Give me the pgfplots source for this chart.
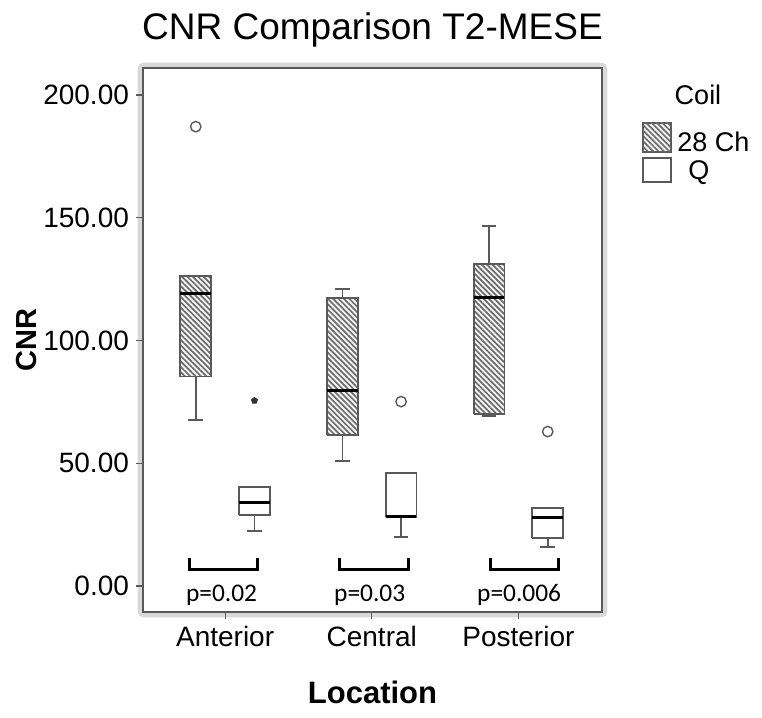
\documentclass[border=0pt]{standalone}
\usepackage{fontspec}
\setmainfont{Liberation Sans}
\newfontfamily\pfont{Carlito}
\usepackage{pgfplots}
\pgfplotsset{compat=1.18}
\usetikzlibrary{patterns.meta}

\definecolor{edge}{gray}{0.35}
\definecolor{hatch}{gray}{0.42}

\tikzset{hatched/.style={fill=gray!8, postaction={pattern={Lines[angle=-45,distance=1.9pt,line width=0.85pt]}, pattern color=hatch}}}

\pgfplotsset{
  whisk/.style={edge, line width=0.9pt, no markers, unbounded coords=jump},
  hbox/.style={draw=edge, line width=0.9pt, no markers, line join=miter, hatched},
  wbox/.style={draw=edge, line width=0.9pt, no markers, line join=miter, fill=white},
  med/.style={black, line width=1.5pt, no markers},
  outl/.style={only marks, mark=o, mark size=2.6pt, mark options={draw=edge, line width=0.7pt}},
  brk/.style={black, line width=1.5pt, no markers},
}

\begin{document}
\begin{tikzpicture}
\useasboundingbox (-71.5pt,-53pt) rectangle (309.5pt,306pt);
% light outer frame
\draw[gray!30, line width=2.2pt, rounded corners=2pt] (-1.6pt,-1.6pt) rectangle (231.1pt,273.6pt);
\begin{axis}[
  at={(0,0)}, anchor=south west,
  scale only axis, width=229.5pt, height=272pt,
  xmin=0.44, xmax=3.57, ymin=-10.6, ymax=211,
  xtick={1,2,3}, xticklabels={Anterior,Central,Posterior},
  ytick={0,50,100,150,200},
  yticklabel style={/pgf/number format/.cd, fixed, fixed zerofill, precision=2, assume math mode=true},
  xtick pos=bottom, ytick pos=left,
  tick align=outside, major tick length=3.5pt,
  tick style={edge, line width=0.6pt},
  tick label style={font=\fontsize{14}{16}\selectfont},
  axis line style={edge, line width=0.8pt},
  clip=false,
]
% ---- Anterior, 28 Ch (x=0.8)
\addplot[whisk] coordinates {(0.8,67.6) (0.8,85.3) (0.8,nan) (0.75,67.6) (0.85,67.6)};
\addplot[hbox] coordinates {(0.695,85.3) (0.905,85.3) (0.905,126.3) (0.695,126.3) (0.695,85.3)};
\addplot[med] coordinates {(0.695,119.2) (0.905,119.2)};
\addplot[outl] coordinates {(0.8,187.1)};
% ---- Anterior, Q (x=1.2)
\addplot[whisk] coordinates {(1.2,22.4) (1.2,28.9) (1.2,nan) (1.15,22.4) (1.25,22.4)};
\addplot[wbox] coordinates {(1.095,28.9) (1.305,28.9) (1.305,40.4) (1.095,40.4) (1.095,28.9)};
\addplot[med] coordinates {(1.095,33.9) (1.305,33.9)};
\addplot[only marks, mark=pentagon*, mark size=1.6pt, black!80] coordinates {(1.2,75.5)};
% ---- Central, 28 Ch (x=1.8)
\addplot[whisk] coordinates {(1.8,50.9) (1.8,61.5) (1.8,nan) (1.75,50.9) (1.85,50.9) (1.85,nan) (1.8,117.2) (1.8,121.1) (1.8,nan) (1.75,121.1) (1.85,121.1)};
\addplot[hbox] coordinates {(1.695,61.5) (1.905,61.5) (1.905,117.2) (1.695,117.2) (1.695,61.5)};
\addplot[med] coordinates {(1.695,79.6) (1.905,79.6)};
% ---- Central, Q (x=2.2)
\addplot[whisk] coordinates {(2.2,19.8) (2.2,28.2) (2.2,nan) (2.15,19.8) (2.25,19.8)};
\addplot[wbox] coordinates {(2.095,28.2) (2.305,28.2) (2.305,45.9) (2.095,45.9) (2.095,28.2)};
\addplot[med] coordinates {(2.095,28.2) (2.305,28.2)};
\addplot[outl] coordinates {(2.2,75.1)};
% ---- Posterior, 28 Ch (x=2.8)
\addplot[whisk] coordinates {(2.75,69.3) (2.85,69.3) (2.85,nan) (2.8,131.2) (2.8,146.6) (2.8,nan) (2.75,146.6) (2.85,146.6)};
\addplot[hbox] coordinates {(2.695,69.9) (2.905,69.9) (2.905,131.2) (2.695,131.2) (2.695,69.9)};
\addplot[med] coordinates {(2.695,117.6) (2.905,117.6)};
% ---- Posterior, Q (x=3.2)
\addplot[whisk] coordinates {(3.2,16.0) (3.2,19.4) (3.2,nan) (3.15,16.0) (3.25,16.0)};
\addplot[wbox] coordinates {(3.095,19.4) (3.305,19.4) (3.305,31.9) (3.095,31.9) (3.095,19.4)};
\addplot[med] coordinates {(3.095,28.0) (3.305,28.0)};
\addplot[outl] coordinates {(3.2,62.9)};
% ---- brackets and p-values
\addplot[brk] coordinates {(0.754,11.4) (0.754,6.9) (1.218,6.9) (1.218,11.4)};
\addplot[brk] coordinates {(1.782,11.4) (1.782,6.9) (2.253,6.9) (2.253,11.4)};
\addplot[brk] coordinates {(2.81,11.4) (2.81,6.9) (3.27,6.9) (3.27,11.4)};
\node[font=\pfont\fontsize{12.7}{15}\selectfont] at (axis cs:0.976,-3.7) {p=0.02};
\node[font=\pfont\fontsize{12.7}{15}\selectfont] at (axis cs:1.986,-3.7) {p=0.03};
\node[font=\pfont\fontsize{12.7}{15}\selectfont] at (axis cs:3.005,-3.7) {p=0.006};
\end{axis}
% title and axis labels
\node[anchor=base, font=\fontsize{18.5}{22}\selectfont] at (114.75pt,286pt) {CNR Comparison T2-MESE};
\node[font=\bfseries\fontsize{15.5}{18}\selectfont] at (114.75pt,-40pt) {Location};
\node[rotate=90, font=\bfseries\fontsize{14.5}{17}\selectfont] at (-58pt,136pt) {CNR};
% legend
\node[anchor=base, font=\fontsize{13.5}{16}\selectfont] at (277.5pt,253.5pt) {Coil};
\draw[edge, line width=0.7pt, hatched] (250pt,230pt) rectangle (264pt,244.5pt);
\draw[edge, line width=0.7pt] (250pt,215pt) rectangle (264pt,227pt);
\node[anchor=base west, inner sep=0pt, font=\fontsize{13.5}{16}\selectfont] at (267pt,230pt) {28 Ch};
\node[anchor=base west, inner sep=0pt, font=\fontsize{13.5}{16}\selectfont] at (272.5pt,216pt) {Q};
\end{tikzpicture}
\end{document}
